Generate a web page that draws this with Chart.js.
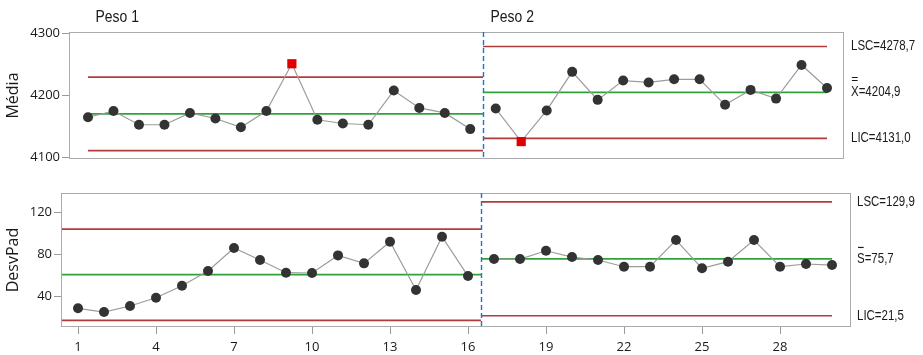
<!DOCTYPE html>
<html>
<head>
<meta charset="utf-8">
<script src="https://cdn.jsdelivr.net/npm/chart.js@4.4.1/dist/chart.umd.min.js"></script>
<style>
  html, body { margin: 0; padding: 0; background: #fff; }
  .pane { position: absolute; left: 0; width: 923px; }
</style>
</head>
<body>
<div class="pane" style="top:0;height:175px"><canvas id="mean"></canvas></div>
<div class="pane" style="top:175px;height:180px"><canvas id="sd"></canvas></div>
<script>
// sample numbers and stages
const samples = [1, 2, 3, 4, 5, 6, 7, 8, 9, 10, 11, 12, 13, 14, 15, 16, 17, 18, 19, 20, 21, 22, 23, 24, 25, 26, 27, 28, 29, 30];
const stageNames = ['Peso 1', 'Peso 2'];
const stageSizes = [16, 14];

// Xbar chart
const meanValues = [4165, 4175, 4153, 4153, 4172, 4163, 4149, 4175, 4251, 4161, 4155, 4153, 4208, 4180, 4172, 4146,
                    4179, 4126, 4176, 4238, 4193, 4224, 4221, 4226, 4226, 4185, 4209, 4195, 4249, 4212];
const meanUCL = [4229.5, 4278.7];
const meanCL = [4170.4, 4204.9];
const meanLCL = [4111.3, 4131.0];
const meanTicks = [4100, 4200, 4300];

// S chart
const sdValues = [28.6, 25.0, 30.8, 38.7, 50.1, 64.1, 86.0, 74.6, 62.5, 62.2, 79.0, 71.4, 92.0, 46.0, 96.8, 59.3,
                  75.5, 75.5, 83.4, 77.4, 74.6, 68.2, 68.2, 93.6, 66.7, 73.0, 93.6, 68.2, 70.8, 69.8];
const sdUCL = [104.0, 129.9];
const sdCL = [60.6, 75.7];
const sdLCL = [17.2, 21.5];
const sdTicks = [40, 80, 120];

const xTicks = [1, 4, 7, 10, 13, 16, 19, 22, 25, 28];

const RED = '#b23b3b';
const GREEN = '#2fa33a';
const ARIAL = '"Liberation Sans", Arial, sans-serif';
const SANS = '"Open Sans", sans-serif';

const fmt = v => v.toFixed(1).replace('.', ',');

// narrow text: Arial squeezed horizontally
function narrowText(ctx, text, x, y) {
  const w = ctx.measureText(text).width;
  ctx.fillText(text, x, y, w * 0.82);
  return w * 0.82;
}

const starts = [];
stageSizes.reduce((n, s) => { starts.push(n); return n + s; }, 0);

const decor = {
  id: 'decor',
  afterDraw(chart) {
    const o = chart.options.plugins.decor;
    const { ctx, chartArea: a } = chart;
    const x = chart.scales.x;
    ctx.save();
    ctx.strokeStyle = '#ababab';
    ctx.lineWidth = 1;
    ctx.strokeRect(a.left + 0.5, a.top + 0.5, a.width - 1, a.height - 1);

    // stage dividers
    ctx.strokeStyle = '#1b74d4';
    ctx.lineWidth = 1.4;
    ctx.setLineDash([5, 3]);
    starts.slice(1).forEach(i => {
      const px = Math.round(x.getPixelForValue(samples[i] - 0.5)) + 0.5;
      ctx.beginPath();
      ctx.moveTo(px, a.top);
      ctx.lineTo(px, a.bottom + 1);
      ctx.stroke();
    });
    ctx.setLineDash([]);

    ctx.fillStyle = '#1a1a1a';
    ctx.textBaseline = 'middle';
    ctx.textAlign = 'left';
    if (o.titles) {
      ctx.font = '17px ' + ARIAL;
      stageNames.forEach((name, s) => {
        const x0 = s === 0 ? o.lineStart : samples[starts[s]] - 0.5;
        narrowText(ctx, name, x.getPixelForValue(x0) + 7.5, 17);
      });
    }

    // limit labels for the last stage
    const y = chart.scales.y;
    const last = stageSizes.length - 1;
    const lx = a.right + o.labelGap;
    ctx.font = '14px ' + ARIAL;
    narrowText(ctx, 'LSC=' + fmt(o.ucl[last]), lx, y.getPixelForValue(o.ucl[last]));
    narrowText(ctx, 'LIC=' + fmt(o.lcl[last]), lx, y.getPixelForValue(o.lcl[last]));
    const cy = y.getPixelForValue(o.cl[last]);
    narrowText(ctx, o.sym + '=' + fmt(o.cl[last]), lx, cy);
    const w = ctx.measureText(o.sym).width * 0.82;
    if (o.bars === 2) {
      ctx.font = '12px ' + ARIAL;
      ctx.textAlign = 'center';
      ctx.fillText('=', lx + w / 2, cy - 13);
    } else {
      ctx.fillRect(lx + 1, cy - 12, w - 2, 1.2);
    }
    ctx.restore();
  }
};

function makeChart(id, o) {
  const datasets = [];
  stageSizes.forEach((size, s) => {
    const x0 = s === 0 ? o.lineStart : samples[starts[s]] - 0.5;
    const x1 = s === stageSizes.length - 1 ? samples[samples.length - 1] : samples[starts[s] + size - 1] + 0.5;
    [[o.ucl, RED], [o.cl, GREEN], [o.lcl, RED]].forEach(([arr, col]) => {
      datasets.push({
        data: [{ x: x0, y: arr[s] }, { x: x1, y: arr[s] }],
        borderColor: col, borderWidth: 1.7, pointRadius: 0, order: 2
      });
    });
  });
  stageSizes.forEach((size, s) => {
    const pts = [];
    for (let i = starts[s]; i < starts[s] + size; i++) pts.push({ x: samples[i], y: o.values[i] });
    const out = c => {
      const p = pts[c.dataIndex];
      return p ? (p.y > o.ucl[s] || p.y < o.lcl[s]) : false;
    };
    datasets.push({
      data: pts,
      borderColor: '#9c9c9c', borderWidth: 1.2,
      pointStyle: c => out(c) ? 'rect' : 'circle',
      pointRadius: c => out(c) ? 6.5 : 5,
      pointBackgroundColor: c => out(c) ? '#e00000' : '#333',
      pointBorderWidth: 0,
      order: 1
    });
  });

  return new Chart(document.getElementById(id), {
    type: 'line',
    data: { datasets },
    plugins: [decor],
    options: {
      responsive: true,
      maintainAspectRatio: false,
      animation: false,
      events: [],
      layout: { padding: o.padding },
      plugins: {
        legend: { display: false },
        tooltip: { enabled: false },
        decor: o
      },
      scales: {
        x: {
          type: 'linear', min: o.xMin, max: o.xMax,
          display: o.showX,
          afterBuildTicks: sc => { sc.ticks = xTicks.map(v => ({ value: v })); },
          afterFit: sc => { sc.height = o.xHeight; },
          grid: { drawOnChartArea: false, tickLength: 7, color: '#9a9a9a' },
          border: { display: false },
          ticks: { autoSkip: false, maxRotation: 0, padding: 5, color: '#1a1a1a', font: { family: SANS, size: 13 },
                   callback: v => String(v) }
        },
        y: {
          min: o.yMin, max: o.yMax,
          afterBuildTicks: sc => { sc.ticks = o.yTicks.map(v => ({ value: v })); },
          afterFit: sc => { sc.width = o.yWidth; },
          grid: { drawOnChartArea: false, tickLength: 7, color: '#9a9a9a' },
          border: { display: false },
          ticks: { padding: 2, color: '#1a1a1a', font: { family: SANS, size: 13 }, callback: v => String(v) },
          title: { display: true, text: o.yTitle, color: '#1a1a1a', font: { family: SANS, size: 16 }, padding: { top: 4, bottom: 0 } }
        }
      }
    }
  });
}

makeChart('mean', {
  values: meanValues, ucl: meanUCL, cl: meanCL, lcl: meanLCL, yTicks: meanTicks,
  yMin: 4098, yMax: 4302, xMin: 0.254, xMax: 30.667, lineStart: 1,
  yTitle: 'Média', yWidth: 69, showX: false, xHeight: 0,
  padding: { top: 32, right: 79, bottom: 16, left: 0 },
  titles: true, labelGap: 7, sym: 'X', bars: 2
});

makeChart('sd', {
  values: sdValues, ucl: sdUCL, cl: sdCL, lcl: sdLCL, yTicks: sdTicks,
  yMin: 10.8, yMax: 138.4, xMin: 0.346, xMax: 30.73, lineStart: 0.346,
  yTitle: 'DesvPad', yWidth: 61, showX: true, xHeight: 28,
  padding: { top: 18, right: 72, bottom: 0, left: 0 },
  titles: false, labelGap: 6, sym: 'S', bars: 1
});
</script>
</body>
</html>
